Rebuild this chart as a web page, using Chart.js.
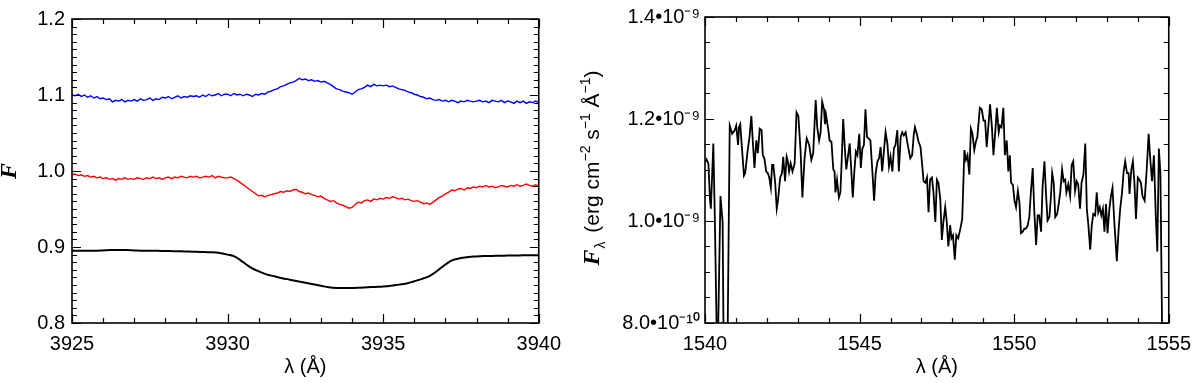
<!DOCTYPE html>
<html>
<head>
<meta charset="utf-8">
<script src="https://cdn.jsdelivr.net/npm/chart.js@4.4.0/dist/chart.umd.min.js"></script>
<style>
  html, body { margin: 0; padding: 0; background: #fff; }
  #wrap { position: relative; width: 1200px; height: 383px; }
  #chartCa { position: absolute; left: 0; top: 0; }
  #chartCiv { position: absolute; left: 570px; top: 0; }
</style>
</head>
<body>
<div id="wrap">
  <canvas id="chartCa" width="570" height="383"></canvas>
  <canvas id="chartCiv" width="630" height="383"></canvas>
</div>
<script>
// Painel esquerdo: Ca II K, amostrado a cada 0.1 A a partir de 3925
const caStart = 3925, caStep = 0.1;
const caBlue = [
  1.100,1.099,1.101,1.098,1.100,1.097,1.099,1.096,1.098,1.095,
  1.096,1.094,1.095,1.091,1.093,1.092,1.094,1.091,1.093,1.092,
  1.094,1.092,1.095,1.093,1.094,1.096,1.093,1.095,1.094,1.097,
  1.096,1.098,1.095,1.097,1.099,1.096,1.098,1.097,1.099,1.098,
  1.099,1.097,1.100,1.098,1.101,1.099,1.100,1.102,1.099,1.101,
  1.101,1.099,1.102,1.100,1.101,1.099,1.101,1.100,1.098,1.101,
  1.100,1.102,1.101,1.104,1.105,1.107,1.108,1.111,1.112,1.114,
  1.116,1.117,1.119,1.122,1.120,1.121,1.119,1.120,1.118,1.119,
  1.117,1.118,1.116,1.114,1.111,1.108,1.107,1.105,1.104,1.103,
  1.101,1.104,1.107,1.108,1.110,1.113,1.111,1.114,1.112,1.113,
  1.112,1.113,1.111,1.112,1.110,1.108,1.107,1.106,1.104,1.103,
  1.101,1.100,1.098,1.097,1.095,1.096,1.094,1.093,1.094,1.092,
  1.093,1.091,1.093,1.092,1.090,1.092,1.091,1.093,1.092,1.091,
  1.092,1.093,1.091,1.092,1.090,1.093,1.092,1.091,1.093,1.090,
  1.092,1.091,1.089,1.092,1.090,1.092,1.089,1.091,1.090,1.092,1.090
];
const caRed = [
  0.995,0.996,0.994,0.995,0.993,0.994,0.992,0.993,0.991,0.992,
  0.990,0.991,0.989,0.990,0.988,0.990,0.989,0.991,0.989,0.990,
  0.989,0.991,0.990,0.989,0.991,0.990,0.992,0.990,0.991,0.989,
  0.991,0.992,0.990,0.992,0.991,0.993,0.992,0.991,0.993,0.992,
  0.993,0.991,0.992,0.993,0.992,0.994,0.991,0.993,0.992,0.991,
  0.991,0.992,0.990,0.988,0.985,0.982,0.979,0.976,0.973,0.970,
  0.967,0.968,0.966,0.968,0.969,0.970,0.971,0.973,0.972,0.974,
  0.973,0.975,0.976,0.973,0.972,0.970,0.971,0.969,0.968,0.966,
  0.967,0.964,0.962,0.960,0.961,0.958,0.956,0.955,0.953,0.951,
  0.952,0.956,0.959,0.958,0.961,0.962,0.960,0.963,0.962,0.964,
  0.963,0.965,0.964,0.966,0.965,0.963,0.964,0.962,0.963,0.961,
  0.960,0.961,0.959,0.957,0.958,0.956,0.959,0.962,0.965,0.967,
  0.970,0.972,0.975,0.974,0.976,0.977,0.975,0.978,0.977,0.979,
  0.978,0.980,0.979,0.981,0.979,0.980,0.978,0.979,0.981,0.980,
  0.979,0.981,0.980,0.982,0.980,0.981,0.983,0.981,0.980,0.982,0.980
];
// modelo (preto), a cada 0.25 A
const caModelStep = 0.25;
const caModel = [
  0.895,0.895,0.895,0.895,0.8955,0.896,0.896,0.896,0.8955,0.895,
  0.895,0.895,0.8947,0.8945,0.8943,0.894,0.8937,0.8933,0.893,0.892,
  0.890,0.887,0.880,0.873,0.868,0.864,0.8615,0.859,0.857,0.855,
  0.853,0.851,0.849,0.847,0.846,0.846,0.846,0.8465,0.847,0.8475,
  0.848,0.849,0.8505,0.852,0.855,0.858,0.862,0.869,0.877,0.883,
  0.8855,0.887,0.8875,0.888,0.8883,0.8885,0.8887,0.8888,0.889,0.889,0.889
];
const caXTicks = [3925, 3930, 3935, 3940];
const caYTicks = [0.8, 0.9, 1.0, 1.1, 1.2];

// Painel direito: C IV (fluxo em unidades de 1e-9)
const civLam = [
  1540.00,1540.05,1540.11,1540.16,1540.19,1540.27,1540.32,1540.40,1540.50,1540.57,
  1540.61,1540.72,1540.80,1540.88,1540.96,1541.01,1541.07,1541.10,1541.14,1541.20,
  1541.26,1541.30,1541.37,1541.44,1541.50,1541.55,1541.60,1541.66,1541.71,1541.77,
  1541.83,1541.87,1541.92,1541.98,1542.03,1542.08,1542.13,1542.17,1542.21,1542.27,
  1542.32,1542.36,1542.43,1542.49,1542.53,1542.59,1542.64,1542.68,1542.72,1542.77,
  1542.83,1542.90,1542.96,1543.02,1543.09,1543.15,1543.22,1543.29,1543.37,1543.44,
  1543.50,1543.58,1543.63,1543.69,1543.74,1543.79,1543.85,1543.88,1543.92,1543.99,
  1544.03,1544.09,1544.15,1544.19,1544.22,1544.27,1544.33,1544.38,1544.41,1544.47,
  1544.52,1544.57,1544.63,1544.68,1544.73,1544.78,1544.83,1544.88,1544.93,1544.99,
  1545.04,1545.09,1545.14,1545.19,1545.24,1545.29,1545.35,1545.42,1545.47,1545.52,
  1545.58,1545.63,1545.68,1545.73,1545.79,1545.84,1545.90,1545.95,1546.00,1546.06,
  1546.11,1546.16,1546.22,1546.27,1546.33,1546.38,1546.43,1546.49,1546.54,1546.59,
  1546.64,1546.70,1546.75,1546.79,1546.85,1546.91,1546.97,1547.02,1547.07,1547.13,
  1547.18,1547.23,1547.28,1547.34,1547.39,1547.45,1547.50,1547.55,1547.61,1547.66,
  1547.71,1547.77,1547.82,1547.87,1547.93,1547.97,1548.02,1548.08,1548.13,1548.19,
  1548.26,1548.32,1548.39,1548.44,1548.49,1548.55,1548.60,1548.65,1548.71,1548.76,
  1548.81,1548.89,1548.95,1549.01,1549.06,1549.11,1549.16,1549.22,1549.28,1549.33,
  1549.40,1549.44,1549.50,1549.54,1549.59,1549.65,1549.70,1549.76,1549.81,1549.86,
  1549.90,1549.96,1550.01,1550.06,1550.12,1550.17,1550.22,1550.28,1550.33,1550.38,
  1550.44,1550.49,1550.54,1550.60,1550.65,1550.71,1550.76,1550.81,1550.87,1550.92,
  1550.98,1551.03,1551.08,1551.14,1551.19,1551.23,1551.28,1551.33,1551.39,1551.44,
  1551.49,1551.55,1551.60,1551.65,1551.69,1551.75,1551.81,1551.86,1551.91,1551.97,
  1552.02,1552.07,1552.13,1552.18,1552.24,1552.30,1552.35,1552.40,1552.46,1552.51,
  1552.56,1552.62,1552.67,1552.72,1552.77,1552.82,1552.87,1552.92,1552.97,1553.02,
  1553.08,1553.13,1553.18,1553.24,1553.32,1553.38,1553.43,1553.49,1553.54,1553.59,
  1553.65,1553.70,1553.73,1553.79,1553.84,1553.89,1553.94,1554.00,1554.05,1554.10,
  1554.15,1554.22,1554.29,1554.35,1554.40,1554.46,1554.52,1554.58,1554.63,1554.68,
  1554.73,1554.80,1555.00
];
const civFluxE9 = [
  1.115,1.121,1.113,1.043,1.024,1.152,0.998,0.700,1.049,0.998,
  0.700,0.700,1.187,1.171,1.178,1.187,1.149,1.184,1.190,1.139,
  1.089,1.094,1.133,1.165,1.206,1.152,1.104,1.158,1.133,1.181,
  1.178,1.129,1.123,1.097,1.094,1.085,1.065,1.110,1.110,1.075,
  1.024,1.040,1.085,1.094,1.126,1.078,1.126,1.117,1.097,1.113,
  1.097,1.113,1.213,1.206,1.139,1.046,1.123,1.162,1.149,1.120,
  1.133,1.237,1.184,1.158,1.174,1.234,1.219,1.190,1.206,1.178,
  1.158,1.155,1.101,1.097,1.056,1.081,1.046,1.056,1.101,1.200,
  1.145,1.101,1.129,1.152,1.101,1.046,1.097,1.136,1.129,1.171,
  1.104,1.142,1.149,1.219,1.165,1.162,1.158,1.091,1.040,1.094,
  1.117,1.123,1.145,1.097,1.139,1.174,1.152,1.107,1.126,1.097,
  1.142,1.149,1.178,1.097,1.165,1.174,1.168,1.174,1.155,1.139,
  1.123,1.129,1.168,1.184,1.171,1.155,1.145,1.113,1.078,1.075,
  1.085,1.017,1.081,1.085,1.056,0.998,1.081,1.075,1.043,0.963,
  0.998,1.027,0.998,0.950,0.992,0.966,0.972,0.924,0.972,0.966,
  0.985,1.004,1.139,1.120,1.129,1.091,1.181,1.171,1.139,1.155,
  1.165,1.222,1.219,1.197,1.197,1.145,1.181,1.229,1.184,1.129,
  1.184,1.222,1.174,1.187,1.184,1.222,1.129,1.158,1.097,1.129,
  1.075,1.071,1.040,1.027,1.059,1.037,0.976,0.979,0.985,0.985,
  0.992,1.008,1.056,1.104,1.020,0.953,1.011,1.011,0.979,1.069,
  1.117,1.053,1.001,1.008,1.049,1.094,1.075,1.008,1.014,1.033,
  1.056,1.101,1.078,1.081,1.056,1.072,1.049,1.110,1.117,1.059,
  1.078,1.072,1.024,1.075,1.091,1.152,1.024,0.992,0.944,0.992,
  1.014,1.011,1.056,1.017,1.027,1.011,1.024,0.979,1.033,0.976,
  1.024,1.049,1.065,0.998,0.921,0.985,1.024,1.056,1.097,1.117,
  1.094,1.094,1.053,1.101,1.117,1.075,1.004,1.085,1.081,1.075,
  1.049,1.040,1.104,1.171,1.123,1.078,1.129,1.011,0.940,1.142,
  1.094,0.700,0.700
];
const civXTicks = [1540, 1545, 1550, 1555];
const civYTicks = [0.8, 1.0, 1.2, 1.4];
const civYTickLabels = ['8.0•10⁻¹⁰', '1.0•10⁻⁹', '1.2•10⁻⁹', '1.4•10⁻⁹'];

const SANS = '"Liberation Sans", Arial, Helvetica, sans-serif';
const SERIF = '"Liberation Serif", "Times New Roman", serif';
const tickFont = { family: SANS, size: 20 };

// moldura, ticks internos (maiores e menores) e titulo do eixo y com sub/sobrescritos
const frameTicks = {
  id: 'frameTicks',
  afterDraw(chart, args, opts) {
    const { ctx, chartArea: a, scales: { x, y } } = chart;
    ctx.save();
    ctx.strokeStyle = '#000';
    ctx.lineWidth = 1.2;
    ctx.beginPath();
    const nx = Math.round((x.max - x.min) / opts.xMinor);
    for (let i = 0; i <= nx; i++) {
      const v = x.min + i * opts.xMinor;
      const len = (i % opts.xEvery === 0) ? 9 : 5;
      const px = Math.round(x.getPixelForValue(v)) + 0.5;
      ctx.moveTo(px, a.bottom); ctx.lineTo(px, a.bottom - len);
      ctx.moveTo(px, a.top); ctx.lineTo(px, a.top + len);
    }
    const ny = Math.round((y.max - y.min) / opts.yMinor);
    for (let i = 0; i <= ny; i++) {
      const v = y.min + i * opts.yMinor;
      const len = (i % opts.yEvery === 0) ? 9 : 5;
      const py = Math.round(y.getPixelForValue(v)) + 0.5;
      ctx.moveTo(a.left, py); ctx.lineTo(a.left + len, py);
      ctx.moveTo(a.right, py); ctx.lineTo(a.right - len, py);
    }
    ctx.stroke();
    ctx.lineWidth = 1.6;
    ctx.strokeRect(a.left, a.top, a.right - a.left, a.bottom - a.top);

    // titulo do eixo y (girado)
    const segs = opts.yTitle;
    ctx.fillStyle = '#000';
    ctx.textBaseline = 'alphabetic';
    let total = 0;
    segs.forEach(s => { ctx.font = s.font; s.w = ctx.measureText(s.text).width + (s.gap || 0); total += s.w; });
    ctx.translate(opts.titleX, (a.top + a.bottom) / 2 + (opts.titleShift || 0));
    ctx.rotate(-Math.PI / 2);
    let cx = -total / 2;
    segs.forEach(s => {
      ctx.font = s.font;
      ctx.fillText(s.text, cx, s.dy || 0);
      cx += s.w;
    });
    ctx.restore();
  }
};

function fixedTicks(list) {
  return scale => { scale.ticks = list.map(v => ({ value: v })); };
}

new Chart(document.getElementById('chartCa'), {
  type: 'line',
  data: {
    datasets: [
      {
        data: caBlue.map((v, i) => ({ x: caStart + i * caStep, y: v })),
        borderColor: '#0000ff', borderWidth: 1.4, pointRadius: 0, tension: 0
      },
      {
        data: caRed.map((v, i) => ({ x: caStart + i * caStep, y: v })),
        borderColor: '#ff0000', borderWidth: 1.4, pointRadius: 0, tension: 0
      },
      {
        data: caModel.map((v, i) => ({ x: caStart + i * caModelStep, y: v })),
        borderColor: '#000000', borderWidth: 2, pointRadius: 0, tension: 0.4
      }
    ]
  },
  options: {
    responsive: false,
    animation: false,
    layout: { padding: { top: 11, right: 30, left: 0, bottom: 0 } },
    plugins: {
      legend: { display: false },
      tooltip: { enabled: false },
      frameTicks: {
        xMinor: 1, xEvery: 5, yMinor: 0.01, yEvery: 10, titleX: 16,
        yTitle: [{ text: 'F', font: 'italic bold 24px ' + SERIF }]
      }
    },
    scales: {
      x: {
        type: 'linear', min: 3925, max: 3940,
        afterBuildTicks: fixedTicks(caXTicks),
        afterFit: s => { s.height = 60; },
        grid: { display: false, drawTicks: false },
        border: { display: false },
        ticks: { font: tickFont, color: '#000', padding: 9, maxRotation: 0, callback: v => String(v) },
        title: { display: true, text: 'λ (Å)', color: '#000', font: tickFont, padding: { top: 0, bottom: 4 } }
      },
      y: {
        type: 'linear', min: 0.8, max: 1.2,
        afterBuildTicks: fixedTicks(caYTicks),
        afterFit: s => { s.width = 72; },
        grid: { display: false, drawTicks: false },
        border: { display: false },
        ticks: { font: tickFont, color: '#000', padding: 7, callback: v => v.toFixed(1) }
      }
    }
  },
  plugins: [frameTicks]
});

new Chart(document.getElementById('chartCiv'), {
  type: 'line',
  data: {
    datasets: [{
      data: civLam.map((l, i) => ({ x: l, y: civFluxE9[i] })),
      borderColor: '#000000', borderWidth: 1.8, pointRadius: 0, tension: 0
    }]
  },
  options: {
    responsive: false,
    animation: false,
    layout: { padding: { top: 11, right: 27, left: 0, bottom: 0 } },
    plugins: {
      legend: { display: false },
      tooltip: { enabled: false },
      frameTicks: {
        xMinor: 1, xEvery: 5, yMinor: 0.05, yEvery: 4, titleX: 29, titleShift: -2,
        yTitle: [
          { text: 'F', font: 'italic bold 24px ' + SERIF, gap: 1 },
          { text: 'λ', font: '14px ' + SANS, dy: 6, gap: 3 },
          { text: ' (erg cm', font: '21px ' + SANS },
          { text: '−2', font: '14px ' + SANS, dy: -9 },
          { text: ' s', font: '21px ' + SANS },
          { text: '−1', font: '14px ' + SANS, dy: -9 },
          { text: ' Å', font: '21px ' + SANS },
          { text: '−1', font: '14px ' + SANS, dy: -9 },
          { text: ')', font: '21px ' + SANS }
        ]
      }
    },
    scales: {
      x: {
        type: 'linear', min: 1540, max: 1555,
        afterBuildTicks: fixedTicks(civXTicks),
        afterFit: s => { s.height = 60; },
        grid: { display: false, drawTicks: false },
        border: { display: false },
        ticks: { font: tickFont, color: '#000', padding: 9, maxRotation: 0, callback: v => String(v) },
        title: { display: true, text: 'λ (Å)', color: '#000', font: tickFont, padding: { top: 0, bottom: 4 } }
      },
      y: {
        type: 'linear', min: 0.8, max: 1.4,
        afterBuildTicks: fixedTicks(civYTicks),
        afterFit: s => { s.width = 135; },
        grid: { display: false, drawTicks: false },
        border: { display: false },
        ticks: {
          font: tickFont, color: '#000', padding: 5,
          callback: v => {
            const i = civYTicks.findIndex(t => Math.abs(t - v) < 1e-6);
            return i >= 0 ? civYTickLabels[i] : '';
          }
        }
      }
    }
  },
  plugins: [frameTicks]
});
</script>
</body>
</html>
